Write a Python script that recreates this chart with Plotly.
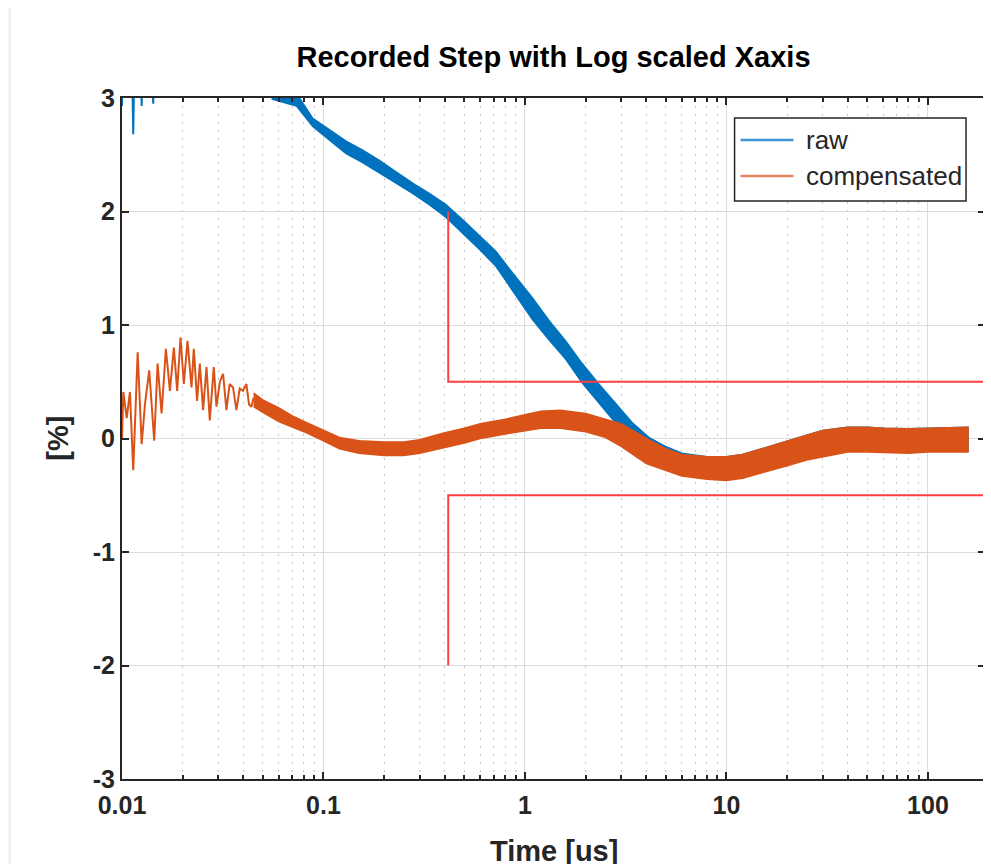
import plotly.graph_objects as go

# ---------------- data ----------------
# compensated: early ringing part (time in us, value in %)
comp_osc_t = [0.01000, 0.01015, 0.01055, 0.01095, 0.01137, 0.01196, 0.01252, 0.01300,
              0.01365, 0.01445, 0.01502, 0.01572, 0.01651, 0.01729, 0.01809, 0.01878,
              0.01952, 0.02027, 0.02114, 0.02213, 0.02272, 0.02359, 0.02433, 0.02526,
              0.02626, 0.02727, 0.02854, 0.02943, 0.03060, 0.03174, 0.03299, 0.03420,
              0.03556, 0.03697, 0.03840, 0.03985, 0.04143, 0.04270, 0.04387, 0.04500]
comp_osc_v = [0.00, 0.41, 0.18, 0.41, -0.28, 0.76, -0.05, 0.30,
              0.60, -0.02, 0.66, 0.22, 0.79, 0.42, 0.80, 0.42,
              0.89, 0.48, 0.86, 0.45, 0.79, 0.33, 0.66, 0.25,
              0.63, 0.16, 0.63, 0.28, 0.50, 0.57, 0.25, 0.48,
              0.45, 0.25, 0.44, 0.42, 0.48, 0.30, 0.28, 0.36]

# compensated: noisy band (upper / lower envelope)
comp_band_t = [0.045, 0.05, 0.06, 0.07, 0.08, 0.1, 0.12, 0.15, 0.2, 0.25, 0.3, 0.4,
               0.5, 0.6, 0.8, 1.0, 1.2, 1.5, 2.0, 2.5, 3.0, 4.0, 5.0, 6.0, 8.0, 10.0,
               12.0, 15.0, 20.0, 25.0, 30.0, 40.0, 50.0, 60.0, 80.0, 100.0, 120.0, 158.0]
comp_band_hi = [0.40, 0.34, 0.27, 0.20, 0.15, 0.07, 0.01, -0.02, -0.03, -0.03, -0.01, 0.05,
                0.09, 0.13, 0.17, 0.21, 0.24, 0.25, 0.22, 0.17, 0.13, 0.00, -0.09, -0.14, -0.16, -0.16,
                -0.14, -0.09, -0.02, 0.03, 0.07, 0.10, 0.10, 0.09, 0.085, 0.09, 0.10, 0.10]
comp_band_lo = [0.28, 0.23, 0.15, 0.10, 0.06, -0.02, -0.09, -0.13, -0.15, -0.15, -0.13, -0.08,
                -0.04, 0.00, 0.04, 0.07, 0.09, 0.09, 0.06, 0.01, -0.07, -0.22, -0.28, -0.33, -0.36, -0.37,
                -0.35, -0.30, -0.24, -0.19, -0.16, -0.12, -0.12, -0.12, -0.13, -0.12, -0.12, -0.12]

# raw: early part (mostly above the 3 % limit, only the dips are visible)
raw_head_t = [0.01000, 0.01005, 0.01020, 0.01080, 0.01125, 0.01137, 0.01150, 0.01240,
              0.01252, 0.01262, 0.01410, 0.01429, 0.01440, 0.01800, 0.02500, 0.03500,
              0.04500, 0.05530]
raw_head_v = [2.93, 3.30, 3.25, 3.30, 3.20, 2.68, 3.25, 3.20,
              2.93, 3.30, 3.20, 2.95, 3.30, 3.60, 3.70, 3.50,
              3.30, 3.05]

# raw: noisy band (upper / lower envelope)
raw_band_t = [0.0553, 0.0735, 0.0885, 0.1071, 0.1295, 0.1565, 0.1893, 0.2291, 0.2768,
              0.3348, 0.405, 0.4894, 0.592, 0.7161, 0.8654, 1.087, 1.315, 1.591, 1.922,
              2.324, 2.812, 3.398, 4.111, 4.973, 6.0, 8.0, 10.0, 12.0, 15.0, 20.0, 25.0,
              30.0, 40.0, 50.0, 60.0, 80.0, 100.0, 120.0, 158.0]
raw_band_hi = [3.10, 3.04, 2.82, 2.72, 2.62, 2.54, 2.45, 2.35, 2.25,
               2.16, 2.06, 1.93, 1.79, 1.65, 1.46, 1.24, 1.04, 0.86, 0.66,
               0.48, 0.31, 0.14, 0.01, -0.07, -0.13, -0.16, -0.16, -0.14, -0.09, -0.02, 0.03,
               0.07, 0.10, 0.10, 0.09, 0.085, 0.09, 0.10, 0.10]
raw_band_lo = [2.99, 2.93, 2.75, 2.63, 2.51, 2.43, 2.34, 2.25, 2.16,
               2.06, 1.95, 1.81, 1.67, 1.52, 1.31, 1.05, 0.87, 0.70, 0.49,
               0.32, 0.14, 0.01, -0.10, -0.22, -0.31, -0.35, -0.36, -0.34, -0.29, -0.23, -0.18,
               -0.15, -0.11, -0.11, -0.11, -0.12, -0.11, -0.11, -0.11]

# tolerance band (red)
tol_t = [0.416, 0.416, 1000.0]
tol_hi = [2.0, 0.5, 0.5]
tol_lo = [-2.0, -0.5, -0.5]

x_tick_vals = [0.01, 0.1, 1, 10, 100]
x_tick_text = ["0.01", "0.1", "1", "10", "100"]
x_minor_vals = [m * d for d in [0.01, 0.1, 1, 10, 100] for m in range(2, 10)]
y_tick_vals = [-3, -2, -1, 0, 1, 2, 3]
y_tick_text = ["-3", "-2", "-1", "0", "1", "2", "3"]
legend_names = ["raw", "compensated"]

BLUE = "#0072BD"
ORANGE = "#D95319"
RED = "#FF3F3F"
AX = "#262626"
FONT = "Liberation Sans"

fig = go.Figure()

fig.add_trace(go.Scatter(
    x=raw_band_t + raw_band_t[::-1], y=raw_band_hi + raw_band_lo[::-1],
    mode="lines", fill="toself", fillcolor=BLUE, line=dict(color=BLUE, width=1.5),
    showlegend=False, hoverinfo="skip"))
fig.add_trace(go.Scatter(
    x=raw_head_t, y=raw_head_v, mode="lines", name=legend_names[0],
    line=dict(color=BLUE, width=2), showlegend=False))

fig.add_trace(go.Scatter(
    x=comp_band_t + comp_band_t[::-1], y=comp_band_hi + comp_band_lo[::-1],
    mode="lines", fill="toself", fillcolor=ORANGE, line=dict(color=ORANGE, width=1.5),
    showlegend=False, hoverinfo="skip"))
fig.add_trace(go.Scatter(
    x=comp_osc_t, y=comp_osc_v, mode="lines", name=legend_names[1],
    line=dict(color=ORANGE, width=2), showlegend=False))

fig.add_trace(go.Scatter(x=tol_t, y=tol_hi, mode="lines", showlegend=False,
                         line=dict(color=RED, width=2)))
fig.add_trace(go.Scatter(x=tol_t, y=tol_lo, mode="lines", showlegend=False,
                         line=dict(color=RED, width=2)))

fig.update_xaxes(
    type="log", range=[-2, 2.283],
    tickvals=x_tick_vals, ticktext=x_tick_text,
    ticks="inside", ticklen=7, tickwidth=1.5, tickcolor=AX,
    showline=True, linecolor=AX, linewidth=2, mirror="allticks",
    showgrid=True, gridcolor="#dcdcdc", gridwidth=1,
    tickfont=dict(family=FONT, size=25, color=AX, weight="bold"),
    ticklabelstandoff=3,
    minor=dict(tickvals=x_minor_vals, ticks="inside", ticklen=4, tickcolor=AX,
               showgrid=True, gridcolor="#c6c6c6", griddash="1.5px,6.5px", gridwidth=1.2),
    zeroline=False,
)
fig.update_yaxes(
    range=[-3, 3], tickvals=y_tick_vals, ticktext=y_tick_text,
    ticks="inside", ticklen=7, tickwidth=1.5, tickcolor=AX,
    showline=True, linecolor=AX, linewidth=2, mirror="allticks",
    showgrid=True, gridcolor="#dcdcdc", gridwidth=1,
    tickfont=dict(family=FONT, size=25, color=AX, weight="bold"),
    zeroline=False,
)

# legend drawn by hand (paper coordinates of the plot area)
def px2paper_x(px):
    return (px - 122) / 865.0

def py2paper_y(py):
    return (779 - py) / 681.0

leg_shapes = [
    dict(type="rect", xref="paper", yref="paper",
         x0=px2paper_x(736), x1=px2paper_x(968), y0=py2paper_y(201), y1=py2paper_y(118),
         fillcolor="white", line=dict(color=AX, width=1.5), layer="above"),
    dict(type="line", xref="paper", yref="paper",
         x0=px2paper_x(742), x1=px2paper_x(795), y0=py2paper_y(140), y1=py2paper_y(140),
         line=dict(color="#3d93d3", width=2.5), layer="above"),
    dict(type="line", xref="paper", yref="paper",
         x0=px2paper_x(742), x1=px2paper_x(795), y0=py2paper_y(176), y1=py2paper_y(176),
         line=dict(color="#e5875e", width=2.5), layer="above"),
    dict(type="rect", xref="paper", yref="paper",
         x0=px2paper_x(8), x1=px2paper_x(11), y0=py2paper_y(864), y1=py2paper_y(8),
         fillcolor="#efefef", line=dict(width=0), layer="below"),
]
leg_annots = [
    dict(text=legend_names[0], x=px2paper_x(806), y=py2paper_y(140), xref="paper", yref="paper",
         xanchor="left", yanchor="middle", showarrow=False,
         font=dict(family=FONT, size=26, color=AX)),
    dict(text=legend_names[1], x=px2paper_x(806), y=py2paper_y(176), xref="paper", yref="paper",
         xanchor="left", yanchor="middle", showarrow=False,
         font=dict(family=FONT, size=26, color=AX)),
]

# the page body has an 8px margin: figure placed at (8, 8)
fig.update_layout(
    width=983, height=856, autosize=False,
    margin=dict(l=114, r=4, t=90, b=85),
    paper_bgcolor="white", plot_bgcolor="white",
    showlegend=False,
    title=dict(text="Recorded Step with Log scaled Xaxis", x=0.5, xref="paper",
               y=1 - 49 / 856, yref="container", xanchor="center", yanchor="middle",
               font=dict(family=FONT, size=29, color="#000000", weight="bold")),
    annotations=[
        dict(text="Time [us]", x=0.5, xref="paper", y=py2paper_y(851), yref="paper",
             xanchor="center", yanchor="middle", showarrow=False,
             font=dict(family=FONT, size=29, color=AX, weight="bold")),
        dict(text="[%]", x=px2paper_x(57), xref="paper", y=0.5, yref="paper", textangle=-90,
             xanchor="center", yanchor="middle", showarrow=False,
             font=dict(family=FONT, size=29, color=AX, weight="bold")),
    ] + leg_annots,
    shapes=leg_shapes,
)

fig.write_html("out.html")
